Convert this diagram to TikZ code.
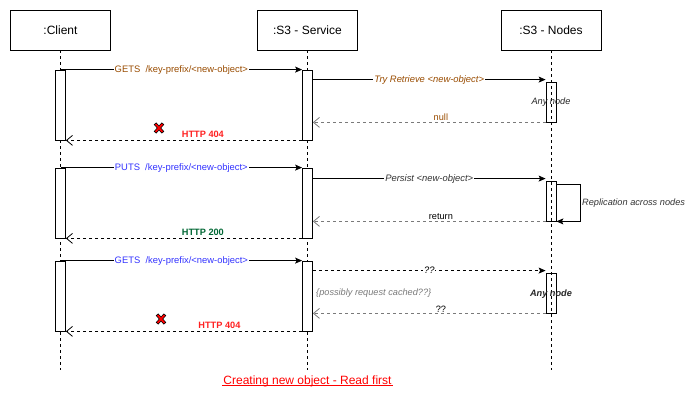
\documentclass[tikz,border=0pt]{standalone}
\usepackage{fontspec}
\setmainfont{Liberation Sans}
\usetikzlibrary{arrows.meta,calc}
\definecolor{brn}{HTML}{994C00}
\definecolor{blu}{HTML}{3333FF}
\definecolor{grn}{HTML}{006633}
\definecolor{rd}{HTML}{FF2020}
\definecolor{gry}{HTML}{7A7A7A}
\begin{document}
\begin{tikzpicture}[x=1pt,y=-1pt,
  head/.style={draw, line width=0.8pt, minimum width=100pt, minimum height=40pt, inner sep=0pt, font=\fontsize{12}{14}\selectfont},
  bar/.style={draw, fill=white, line width=0.8pt, minimum width=10pt, minimum height=70pt, inner sep=0pt},
  nbar/.style={draw, line width=0.8pt, minimum width=10pt, minimum height=40pt, inner sep=0pt},
  life/.style={line width=0.6pt, dash pattern=on 3pt off 3pt},
  call/.style={line width=0.8pt, -{Stealth[length=7pt,width=6pt,inset=1.5pt]}},
  ret/.style={line width=0.8pt, dash pattern=on 3pt off 3pt, -{Straight Barb[length=6pt,width=10pt]}},
  gret/.style={ret, draw=gry},
  mlbl/.style={font=\fontsize{9.4}{10}\selectfont, fill=white, inner sep=1pt},
  rlbl/.style={font=\fontsize{9.2}{10}\selectfont, inner sep=1pt, above},
  note/.style={font=\fontsize{9.2}{10}\selectfont\itshape, inner sep=0pt}
]
\useasboundingbox (0,0) rectangle (694,401);

% headers
\node[head] (client) at (60.5,30) {:Client};
\node[head] (service) at (307.5,30) {:S3 - Service};
\node[head] (nodes) at (551,30) {:S3 - Nodes};

% lifeline ends
\coordinate (cend) at (60.5,370);
\coordinate (send) at (307.5,370);
\coordinate (nend) at (551,370);
\draw[life] (client.south) -- (cend);
\draw[life] (service.south) -- (send);
\draw[life] (nodes.south) -- (nend);

% activation bars
\node[bar] (c1) at (60.5,105) {};
\node[bar] (s1) at (307.5,105) {};
\node[nbar] (n1) at (551,102) {};
\node[bar] (c2) at (60.5,203) {};
\node[bar] (s2) at (307.5,203) {};
\node[nbar] (n2) at (551,201) {};
\node[bar] (c3) at (60.5,296) {};
\node[bar] (s3) at (307.5,296) {};
\node[nbar] (n3) at (551,293) {};

% block 1
\draw[call] (c1.north) -- node[mlbl, text=brn] {GETS\ \ /key-prefix/<new-object>} (s1.north west);
\draw[call] ([yshift=2pt]n1.north west -| s1.east) -- node[mlbl, text=brn, font=\fontsize{9.4}{10}\selectfont\itshape] {Try Retrieve <new-object>} ([yshift=2pt]n1.north west);
\node[note, text=black!85] (any1) at (551,102) {Any node};
\draw[gret] (n1.south west) -- node[rlbl, pos=0.45, text=brn] {null} (n1.south west -| s1.east);
\draw[ret] (s1.south west) -- node[rlbl, pos=0.42, text=rd, font=\fontsize{9.2}{10}\selectfont\bfseries, yshift=1pt] {HTTP 404} (c1.south east);

% X marks
\coordinate (x1) at (159,128);
\coordinate (x2) at (161,319);
\foreach \p in {x1,x2}{
  \draw[line width=3.2pt, black] ($(\p)+(-4,-4.5)$) -- ($(\p)+(4,4.5)$) ($(\p)+(4,-4.5)$) -- ($(\p)+(-4,4.5)$);
  \draw[line width=1.8pt, red] ($(\p)+(-3.4,-3.9)$) -- ($(\p)+(3.4,3.9)$) ($(\p)+(3.4,-3.9)$) -- ($(\p)+(-3.4,3.9)$);
}

% block 2
\draw[call] (c2.north) -- node[mlbl, text=blu] {PUTS\ \ /key-prefix/<new-object>} (s2.north west);
\draw[call] ([yshift=2pt]n2.north west -| s2.east) -- node[mlbl, text=black!80, font=\fontsize{9.4}{10}\selectfont\itshape] {Persist <new-object>} ([yshift=2pt]n2.north west);
\coordinate (loopa) at ([yshift=-4pt]n2.north east);
\coordinate (loopb) at ([xshift=24pt]loopa);
\draw[line width=0.8pt, -{Stealth[length=7pt,width=6pt,inset=1.5pt]}] (loopa) -- (loopb) -- (loopb |- n2.south east) -- (n2.south east);
\node[note, text=black!80, anchor=west] (repl) at (582,203) {Replication across nodes};
\draw[gret] (n2.south west) -- node[rlbl, pos=0.45] {return} (n2.south west -| s2.east);
\draw[ret] (s2.south west) -- node[rlbl, pos=0.42, text=grn, font=\fontsize{9.2}{10}\selectfont\bfseries, yshift=1pt] {HTTP 200} (c2.south east);

% block 3
\draw[call] (c3.north) -- node[mlbl, text=blu] {GETS\ \ /key-prefix/<new-object>} (s3.north west);
\draw[line width=0.8pt, dash pattern=on 3pt off 3pt, -{Stealth[length=7pt,width=6pt,inset=1.5pt]}] ([yshift=2pt]n3.north west -| s3.east) -- node[mlbl, font=\fontsize{9.4}{10}\selectfont\itshape] {??} ([yshift=2pt]n3.north west);
\node[note, text=black!85, font=\fontsize{9.2}{10}\selectfont\bfseries\itshape] (any3) at (551,294) {Any node};
\node[note, text=gry, anchor=west] (cached) at (316,293) {\{possibly request cached??\}};
\draw[gret] (n3.south west) -- node[rlbl, pos=0.45] {??} (n3.south west -| s3.east);
\draw[ret] (s3.south west) -- node[rlbl, pos=0.35, text=rd, font=\fontsize{9.2}{10}\selectfont\bfseries, yshift=1pt] {HTTP 404} (c3.south east);

% title
\node[font=\fontsize{12}{14}\selectfont, text=red, inner sep=1pt] (title) at (307.5,381) {Creating new object - Read first};
\draw[red, line width=0.7pt] ([yshift=-1.2pt]title.base west) -- ([yshift=-1.2pt]title.base east);
\end{tikzpicture}
\end{document}
